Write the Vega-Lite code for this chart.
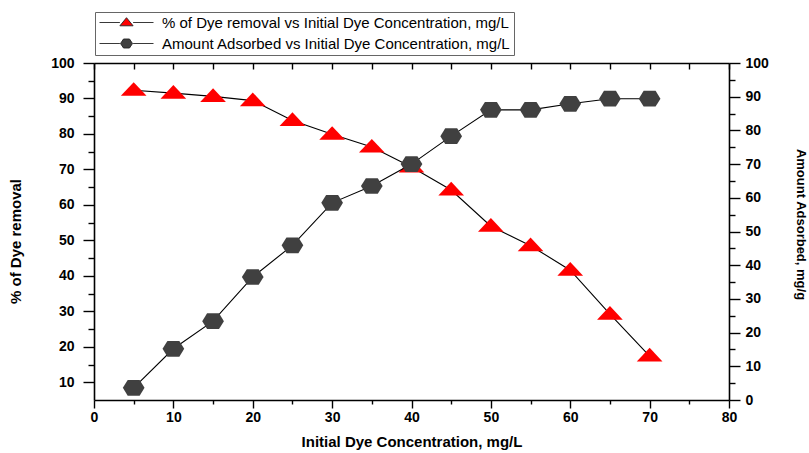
{
  "$schema": "https://vega.github.io/schema/vega-lite/v6.json",
  "width": 635,
  "height": 337,
  "autosize": "none",
  "padding": {"left": 94, "top": 63, "right": 80, "bottom": 53},
  "background": "#ffffff",
  "data": {
    "values": [
      {"conc": 5, "series": "removal", "value": 92.3},
      {"conc": 10, "series": "removal", "value": 91.5},
      {"conc": 15, "series": "removal", "value": 90.6},
      {"conc": 20, "series": "removal", "value": 89.4},
      {"conc": 25, "series": "removal", "value": 83.8},
      {"conc": 30, "series": "removal", "value": 79.9},
      {"conc": 35, "series": "removal", "value": 76.3},
      {"conc": 40, "series": "removal", "value": 70.7},
      {"conc": 45, "series": "removal", "value": 64.2},
      {"conc": 50, "series": "removal", "value": 54.0},
      {"conc": 55, "series": "removal", "value": 48.5},
      {"conc": 60, "series": "removal", "value": 41.6},
      {"conc": 65, "series": "removal", "value": 29.2},
      {"conc": 70, "series": "removal", "value": 17.4},
      {"conc": 5, "series": "adsorbed", "value": 3.6},
      {"conc": 10, "series": "adsorbed", "value": 15.2},
      {"conc": 15, "series": "adsorbed", "value": 23.4},
      {"conc": 20, "series": "adsorbed", "value": 36.5},
      {"conc": 25, "series": "adsorbed", "value": 45.9},
      {"conc": 30, "series": "adsorbed", "value": 58.5},
      {"conc": 35, "series": "adsorbed", "value": 63.5},
      {"conc": 40, "series": "adsorbed", "value": 70.0},
      {"conc": 45, "series": "adsorbed", "value": 78.3},
      {"conc": 50, "series": "adsorbed", "value": 86.1},
      {"conc": 55, "series": "adsorbed", "value": 86.1},
      {"conc": 60, "series": "adsorbed", "value": 87.9},
      {"conc": 65, "series": "adsorbed", "value": 89.4},
      {"conc": 70, "series": "adsorbed", "value": 89.4}
    ]
  },
  "config": {
    "font": "Liberation Sans",
    "view": {"stroke": null},
    "axis": {
      "grid": false,
      "domainColor": "#000000",
      "domainWidth": 1.6,
      "tickColor": "#000000",
      "tickWidth": 1.4,
      "labelColor": "#000000",
      "titleColor": "#000000",
      "labelFont": "Liberation Sans",
      "labelFontWeight": "bold",
      "labelFontSize": 14,
      "titleFont": "Liberation Sans",
      "titleFontWeight": "bold",
      "labelFlush": false,
      "labelOverlap": false
    },
    "legend": {
      "orient": "none",
      "legendX": 1,
      "legendY": -51,
      "direction": "vertical",
      "labelFont": "Liberation Sans",
      "labelFontSize": 15,
      "labelFontWeight": "normal",
      "labelColor": "#000000",
      "labelLimit": 1000,
      "labelOffset": 49,
      "symbolSize": 144,
      "symbolOpacity": 1,
      "symbolStrokeColor": "#222222",
      "symbolStrokeWidth": 1,
      "rowPadding": 5,
      "padding": 3,
      "strokeColor": "#666666",
      "fillColor": "#ffffff"
    }
  },
  "layer": [
    {
      "transform": [{"filter": "datum.series === 'removal'"}],
      "encoding": {
        "x": {
          "field": "conc",
          "type": "quantitative",
          "scale": {"domain": [0, 80], "nice": false, "zero": false},
          "axis": {
            "orient": "bottom",
            "values": [0, 10, 20, 30, 40, 50, 60, 70, 80],
            "tickSize": 8,
            "labelPadding": 2,
            "title": "Initial Dye Concentration, mg/L",
            "titleFontSize": 15,
            "titleBaseline": "middle",
            "titleAlign": "center",
            "titleX": 317.5,
            "titleY": 41
          }
        },
        "y": {
          "field": "value",
          "type": "quantitative",
          "scale": {"domain": [5, 100], "nice": false, "zero": false},
          "axis": {
            "orient": "left",
            "values": [10, 20, 30, 40, 50, 60, 70, 80, 90, 100],
            "tickSize": 11,
            "labelPadding": 9,
            "title": "% of Dye removal",
            "titleFontSize": 15,
            "titleAngle": 270,
            "titleBaseline": "bottom",
            "titleAlign": "center",
            "titleX": -71,
            "titleY": 178
          }
        }
      },
      "layer": [
        {"mark": {"type": "line", "color": "#000000", "strokeWidth": 1.1}},
        {
          "mark": {
            "type": "point",
            "filled": true,
            "opacity": 1,
            "size": 660,
            "strokeWidth": 0,
            "color": "#ff0000",
            "shape": "M 0 -0.634 L 1 0.432 L -1 0.432 Z"
          }
        }
      ]
    },
    {
      "transform": [{"filter": "datum.series === 'adsorbed'"}],
      "encoding": {
        "x": {
          "field": "conc",
          "type": "quantitative",
          "scale": {"domain": [0, 80], "nice": false, "zero": false},
          "axis": {
            "orient": "top",
            "values": [0, 5, 10, 15, 20, 25, 30, 35, 40, 45, 50, 55, 60, 65, 70, 75, 80],
            "tickSize": -6,
            "labels": false,
            "title": null
          }
        },
        "y": {
          "field": "value",
          "type": "quantitative",
          "scale": {"domain": [0, 100], "nice": false, "zero": false},
          "axis": {
            "orient": "right",
            "values": [0, 10, 20, 30, 40, 50, 60, 70, 80, 90, 100],
            "tickSize": 11,
            "labelPadding": 5,
            "title": "Amount Adsorbed, mg/g",
            "titleFontSize": 13,
            "titleAngle": 90,
            "titleBaseline": "bottom",
            "titleAlign": "center",
            "titleX": 64,
            "titleY": 161
          }
        }
      },
      "layer": [
        {"mark": {"type": "line", "color": "#000000", "strokeWidth": 1.1}},
        {
          "mark": {
            "type": "point",
            "filled": true,
            "opacity": 1,
            "size": 471,
            "strokeWidth": 0,
            "color": "#404040",
            "shape": "M -1 0 L -0.55 -0.724 L 0.55 -0.724 L 1 0 L 0.55 0.724 L -0.55 0.724 Z"
          }
        }
      ]
    },
    {
      "mark": {"type": "point", "opacity": 0},
      "encoding": {
        "x": {
          "field": "conc",
          "type": "quantitative",
          "scale": {"domain": [0, 80], "nice": false, "zero": false},
          "axis": {
            "orient": "bottom",
            "values": [5, 15, 25, 35, 45, 55, 65, 75],
            "tickSize": 4,
            "labels": false,
            "domain": false,
            "title": null
          }
        },
        "y": {
          "field": "value",
          "type": "quantitative",
          "scale": {"domain": [5, 100], "nice": false, "zero": false},
          "axis": {
            "orient": "left",
            "values": [15, 25, 35, 45, 55, 65, 75, 85, 95],
            "tickSize": 6,
            "labels": false,
            "domain": false,
            "title": null
          }
        }
      }
    },
    {
      "mark": {"type": "point", "opacity": 0},
      "encoding": {
        "x": {
          "field": "conc",
          "type": "quantitative",
          "scale": {"domain": [0, 80], "nice": false, "zero": false},
          "axis": null
        },
        "y": {
          "field": "value",
          "type": "quantitative",
          "scale": {"domain": [0, 100], "nice": false, "zero": false},
          "axis": {
            "orient": "right",
            "values": [5, 15, 25, 35, 45, 55, 65, 75, 85, 95],
            "tickSize": 6,
            "labels": false,
            "domain": false,
            "title": null
          }
        }
      }
    },
    {
      "transform": [{"filter": "false"}],
      "mark": {"type": "point", "filled": true},
      "encoding": {
        "color": {
          "field": "series",
          "type": "nominal",
          "scale": {"domain": ["removal", "adsorbed"], "range": ["#ff0000", "#404040"]},
          "legend": {
            "title": null,
            "labelExpr": "datum.value === 'adsorbed' ? 'Amount Adsorbed vs Initial Dye Concentration, mg/L' : '% of Dye removal vs Initial Dye Concentration, mg/L'",
            "encode": {
              "symbols": {
                "update": {
                  "stroke": {"value": "#222222"},
                  "strokeWidth": {"value": 0.9}
                }
              }
            }
          }
        },
        "shape": {
          "field": "series",
          "type": "nominal",
          "scale": {
            "domain": ["removal", "adsorbed"],
            "range": [
              "M -1 0 L 2.4 0 M 4.6 0 L 8 0 M 3.5 -0.8 L 4.6 0.55 L 2.4 0.55 Z",
              "M -1 0 L 2.4 0 M 4.6 0 L 8 0 M 2.5 0 L 3 -0.75 L 4 -0.75 L 4.5 0 L 4 0.75 L 3 0.75 Z"
            ]
          },
          "legend": {
            "title": null,
            "labelExpr": "datum.value === 'adsorbed' ? 'Amount Adsorbed vs Initial Dye Concentration, mg/L' : '% of Dye removal vs Initial Dye Concentration, mg/L'",
            "encode": {
              "symbols": {
                "update": {
                  "stroke": {"value": "#222222"},
                  "strokeWidth": {"value": 0.9}
                }
              }
            }
          }
        }
      }
    }
  ],
  "resolve": {"scale": {"x": "independent", "y": "independent"}}
}
